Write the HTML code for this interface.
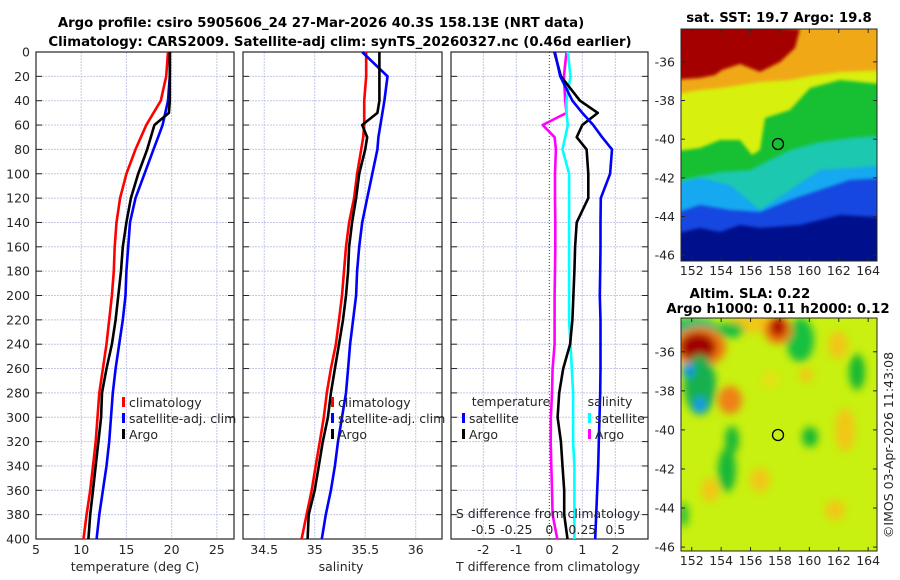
<!DOCTYPE html>
<html><head><meta charset="utf-8">
<style>
html,body{margin:0;padding:0;background:#fff;}
svg{display:block;font-family:"DejaVu Sans","Liberation Sans",sans-serif;}
.tk{font-size:12.5px;fill:#262626;}
.ttl{font-size:13.3px;font-weight:bold;fill:#000;}
</style></head>
<body>
<svg id="fig" width="900" height="580" viewBox="0 0 900 580" xmlns="http://www.w3.org/2000/svg">
<defs>
<filter id="blur" x="-20%" y="-20%" width="140%" height="140%"><feGaussianBlur stdDeviation="4"/></filter>
<filter id="blur2" x="-20%" y="-20%" width="140%" height="140%"><feGaussianBlur stdDeviation="1.5"/></filter>
<clipPath id="cm1"><rect x="681" y="29" width="196" height="232"/></clipPath>
<clipPath id="cm2"><rect x="681" y="318" width="196" height="233"/></clipPath>
</defs>
<text class="ttl" x="321" y="27" text-anchor="middle">Argo profile: csiro 5905606_24 27-Mar-2026 40.3S 158.13E (NRT data)</text>
<text class="ttl" x="340" y="46" text-anchor="middle">Climatology: CARS2009. Satellite-adj clim: synTS_20260327.nc (0.46d earlier)</text>
<g id="plots"></g>

<!-- top map: SST (each polygon = area above its lower boundary) -->
<text class="ttl" x="779" y="22" text-anchor="middle">sat. SST: 19.7 Argo: 19.8</text>
<g clip-path="url(#cm1)">
<rect x="681" y="29" width="196" height="232" fill="#000f8c"/>
<polygon filter="url(#blur2)" fill="#1646e0" points="670,235 700,228 720,232 740,225 760,228 800,225 840,215 890,218 890,20 670,20"/>
<polygon filter="url(#blur2)" fill="#18a8f0" points="670,215 700,205 730,210 760,212 790,200 820,190 850,180 890,178 890,20 670,20"/>
<polygon filter="url(#blur2)" fill="#1cc8b0" points="670,184 700,178 730,185 760,210 790,190 820,170 850,168 890,165 890,20 670,20"/>
<polygon filter="url(#blur2)" fill="#14c030" points="670,182 720,172 750,170 760,165 790,150 820,142 850,138 890,135 890,20 670,20"/>
<polygon filter="url(#blur2)" fill="#d8f010" points="670,152 700,148 720,140 740,140 752,155 760,150 765,118 790,110 810,88 840,80 890,85 890,20 670,20"/>
<polygon filter="url(#blur2)" fill="#f0a814" points="670,95 700,90 720,88 760,82 790,80 810,76 840,72 890,70 890,20 670,20"/>
<polygon filter="url(#blur2)" fill="#a40000" points="670,80 700,78 715,75 722,70 740,64 760,72 780,62 795,48 800,29 670,20"/>
<circle cx="778" cy="144" r="5.5" fill="none" stroke="#000" stroke-width="1.3"/>
</g>
<rect x="681" y="29" width="196" height="232" fill="none" stroke="#262626" stroke-width="1"/>
<g id="map1ticks"></g>

<!-- bottom map: SLA -->
<text class="ttl" x="750" y="298" text-anchor="middle">Altim. SLA: 0.22</text>
<text class="ttl" x="778" y="313" text-anchor="middle">Argo h1000: 0.11 h2000: 0.12</text>
<g clip-path="url(#cm2)">
<rect x="681" y="318" width="196" height="233" fill="#c8f010"/>
<g filter="url(#blur)">
<ellipse cx="752" cy="323" rx="24" ry="10" fill="#f0c818"/>
<ellipse cx="800" cy="340" rx="14" ry="22" fill="#18c040"/>
<ellipse cx="694" cy="328" rx="24" ry="10" fill="#18b878"/>
<ellipse cx="730" cy="330" rx="14" ry="8" fill="#18c040"/>
<ellipse cx="700" cy="347" rx="26" ry="20" fill="#f07810"/>
<ellipse cx="698" cy="347" rx="18" ry="14" fill="#a00000"/>
<ellipse cx="778" cy="330" rx="14" ry="14" fill="#f07810"/>
<ellipse cx="778" cy="327" rx="8" ry="10" fill="#b00000"/>
<ellipse cx="700" cy="385" rx="16" ry="30" fill="#18b050"/>
<ellipse cx="688" cy="370" rx="6" ry="7" fill="#1090f0"/>
<ellipse cx="700" cy="405" rx="6" ry="8" fill="#1898f0"/>
<ellipse cx="730" cy="400" rx="12" ry="14" fill="#f08018"/>
<ellipse cx="732" cy="440" rx="7" ry="14" fill="#18b838"/>
<ellipse cx="727" cy="470" rx="9" ry="22" fill="#18b838"/>
<ellipse cx="810" cy="437" rx="8" ry="10" fill="#18b830"/>
<ellipse cx="857" cy="372" rx="8" ry="18" fill="#18b830"/>
<ellipse cx="684" cy="515" rx="4" ry="12" fill="#18b838"/>
<ellipse cx="760" cy="480" rx="10" ry="12" fill="#f0c818"/>
<ellipse cx="845" cy="430" rx="10" ry="22" fill="#f0c818"/>
<ellipse cx="838" cy="345" rx="10" ry="14" fill="#f0c818"/>
<ellipse cx="710" cy="490" rx="9" ry="12" fill="#f0c818"/>
<ellipse cx="835" cy="510" rx="10" ry="10" fill="#f0c818"/>
<ellipse cx="806" cy="375" rx="7" ry="7" fill="#f0c818"/>
<ellipse cx="770" cy="380" rx="8" ry="8" fill="#e8e018"/>
</g>
<circle cx="778" cy="435" r="5.5" fill="#c8f010" stroke="#000" stroke-width="1.3"/>
</g>
<rect x="681" y="318" width="196" height="233" fill="none" stroke="#262626" stroke-width="1"/>
<g id="map2ticks"></g>
<text class="tk" x="0" y="0" transform="translate(893,445) rotate(-90)" text-anchor="middle">©IMOS 03-Apr-2026 11:43:08</text>
</svg>
<script>
// depth levels (m) for profiles
const depths = [0,20,40,50,60,70,80,100,120,140,160,180,200,220,240,260,280,300,320,340,360,380,400];
// temperature (deg C)
const tempClim = [19.6,19.4,18.8,18.0,17.2,16.6,16.0,15.0,14.3,13.9,13.7,13.6,13.4,13.1,12.8,12.4,12.0,11.8,11.6,11.3,11.0,10.6,10.25];
const tempSat  = [19.8,19.8,19.6,19.3,19.0,18.5,18.0,17.0,16.0,15.4,15.2,15.0,14.9,14.6,14.2,13.8,13.5,13.3,13.1,12.8,12.4,12.0,11.7];
const tempArgo = [19.8,19.8,19.8,19.7,18.1,17.7,17.3,16.3,15.5,15.0,14.6,14.4,14.1,13.8,13.4,12.8,12.3,12.2,11.9,11.6,11.3,11.0,10.8];
// salinity
const salClim = [35.51,35.51,35.49,35.49,35.49,35.48,35.46,35.42,35.39,35.34,35.31,35.29,35.27,35.24,35.21,35.16,35.12,35.09,35.05,35.01,34.97,34.92,34.87];
const salSat  = [35.47,35.72,35.69,35.67,35.65,35.63,35.62,35.57,35.52,35.47,35.44,35.42,35.41,35.38,35.35,35.33,35.31,35.27,35.23,35.20,35.16,35.11,35.07];
const salArgo = [35.64,35.64,35.64,35.62,35.47,35.52,35.50,35.44,35.41,35.37,35.34,35.33,35.31,35.28,35.24,35.20,35.16,35.13,35.08,35.04,35.00,34.94,34.93];
// differences from climatology (T in deg C, S in psu)
const dTSat  = [0.17,0.33,0.70,1.0,1.33,1.6,1.9,1.84,1.56,1.55,1.55,1.54,1.53,1.55,1.55,1.55,1.54,1.52,1.50,1.48,1.45,1.42,1.39];
const dTArgo = [0.15,0.35,0.93,1.47,1.00,0.83,1.13,1.18,1.18,0.83,0.78,0.76,0.73,0.70,0.63,0.42,0.30,0.25,0.35,0.40,0.45,0.45,0.55];
const dSSat  = [0.14,0.16,0.13,0.13,0.14,0.12,0.10,0.15,0.15,0.15,0.15,0.15,0.15,0.15,0.16,0.17,0.18,0.18,0.18,0.19,0.19,0.19,0.19];
const dSArgo = [0.13,0.11,0.12,0.13,-0.05,0.04,0.05,0.043,0.043,0.045,0.045,0.043,0.04,0.04,0.04,0.025,0.02,0.012,0.01,0.015,0.02,0.025,0.06];
// tick labels
const depthTicks = [0,20,40,60,80,100,120,140,160,180,200,220,240,260,280,300,320,340,360,380,400];
const tempTicks = [5,10,15,20,25];
const salTicks = [34.5,35,35.5,36];
const dTTicks = [-2,-1,0,1,2];
const dSTicks = [-0.5,-0.25,0,0.25,0.5];
const lonTicks = [152,154,156,158,160,162,164];
const latTicks = [-36,-38,-40,-42,-44,-46];

const NS="http://www.w3.org/2000/svg";
const root=document.getElementById('plots');
function mk(tag,attrs,parent){const e=document.createElementNS(NS,tag);for(const k in attrs)e.setAttribute(k,attrs[k]);(parent||root).appendChild(e);return e;}
const Y0=52,Y1=539;
const yD=d=>Y0+(d/400)*(Y1-Y0);

const panels=[
 {x0:36,x1:234,min:5,max:26.9,name:'temperature-panel'},
 {x0:243,x1:442,min:34.29,max:36.26,name:'salinity-panel'},
 {x0:451,x1:648,min:-2.98,max:2.99,name:'difference-panel'}
];
panels.forEach(p=>{p.sx=v=>p.x0+(v-p.min)/(p.max-p.min)*(p.x1-p.x0);});

function gridAndFrame(p,xt,idx){
  const g=mk('g',{});
  
  
  depthTicks.forEach(d=>{
    const y=yD(d);
    const l=mk('line',{x1:p.x0,x2:p.x1,y1:y,y2:y,stroke:'#c4c8e4','stroke-width':1,'stroke-dasharray':'2,1'},g);
    
    
    mk('line',{x1:p.x0,x2:p.x0+6,y1:y,y2:y,stroke:'#262626'},g);
    mk('line',{x1:p.x1-6,x2:p.x1,y1:y,y2:y,stroke:'#262626'},g);
    if(idx===0){
      const t=mk('text',{x:30,y:y+4.5,'text-anchor':'end',class:'tk'},g);
      t.textContent=d;
      
      
    }
  });
  xt.forEach(v=>{
    const x=p.sx(v);
    if(idx===2&&v===0){
      mk('line',{x1:x,x2:x,y1:Y0,y2:Y1,stroke:'#3a4a1a','stroke-width':1,'stroke-dasharray':'1,2'},g);
    } else {
      const l=mk('line',{x1:x,x2:x,y1:Y0,y2:Y1,stroke:'#c4c8e4','stroke-width':1,'stroke-dasharray':'2,1'},g);
      
      
    }
    const t=mk('text',{x:x,y:554,'text-anchor':'middle',class:'tk'},g);
    t.textContent=v;
    
    
  });
  mk('rect',{x:p.x0,y:Y0,width:p.x1-p.x0,height:Y1-Y0,fill:'none',stroke:'#262626','stroke-width':1.2},g);
  return g;
}
function line(p,vals,color,name,conv){
  const pts=vals.map((v,i)=>p.sx(conv?conv(v):v).toFixed(1)+','+yD(depths[i]).toFixed(1)).join(' ');
  const e=mk('polyline',{points:pts,fill:'none',stroke:color,'stroke-width':2.6,'stroke-linejoin':'round'});
  
  
}
function legendEntry(x,y,color,label,name){
  const g=mk('g',{});
  
  
  mk('rect',{x:x,y:y-10,width:3,height:10,fill:color},g);
  const t=mk('text',{x:x+7,y:y,class:'tk'},g);
  t.textContent=label;
}
function axisLabel(x,y,txt,name){
  const t=mk('text',{x:x,y:y,'text-anchor':'middle',class:'tk'});
  t.textContent=txt;
  
  
}

// temperature panel
const P0=panels[0];
gridAndFrame(P0,tempTicks,0);
line(P0,tempClim,'#ff0000','temp-climatology-line');
line(P0,tempSat,'#0000ff','temp-satellite-line');
line(P0,tempArgo,'#000000','temp-argo-line');
legendEntry(122,407,'#ff0000','climatology','legend-climatology');
legendEntry(122,423,'#0000ff','satellite-adj. clim','legend-satellite-adj');
legendEntry(122,439,'#000000','Argo','legend-argo');
axisLabel(135,571,'temperature (deg C)','x-axis-title-temperature');

// salinity panel
const P1=panels[1];
gridAndFrame(P1,salTicks,1);
line(P1,salClim,'#ff0000','sal-climatology-line');
line(P1,salSat,'#0000ff','sal-satellite-line');
line(P1,salArgo,'#000000','sal-argo-line');
legendEntry(331,407,'#ff0000','climatology','legend-climatology-sal');
legendEntry(331,423,'#0000ff','satellite-adj. clim','legend-satellite-adj-sal');
legendEntry(331,439,'#000000','Argo','legend-argo-sal');
axisLabel(341,571,'salinity','x-axis-title-salinity');

// difference panel
const P2=panels[2];
gridAndFrame(P2,dTTicks,2);
const s2t=v=>v*4;
line(P2,dSArgo,'#ff00ff','sal-diff-argo-line',s2t);
line(P2,dSSat,'#00ffff','sal-diff-satellite-line',s2t);
line(P2,dTArgo,'#000000','temp-diff-argo-line');
line(P2,dTSat,'#0000ff','temp-diff-satellite-line');
axisLabel(511,406,'temperature','legend-title-temperature');
legendEntry(462,423,'#0000ff','satellite','legend-temp-satellite');
legendEntry(462,439,'#000000','Argo','legend-temp-argo');
axisLabel(610,406,'salinity','legend-title-salinity');
legendEntry(588,423,'#00ffff','satellite','legend-sal-satellite');
legendEntry(588,439,'#ff00ff','Argo','legend-sal-argo');
axisLabel(548,518,'S difference from climatology','s-axis-title');
dSTicks.forEach(v=>{
  const t=mk('text',{x:P2.sx(v*4),y:534,'text-anchor':'middle',class:'tk'});
  t.textContent=v;
  
  
});
axisLabel(548,571,'T difference from climatology','t-axis-title');

// map ticks
function mapTicks(gid,top,bot,latTop,latBot){
  const g=document.getElementById(gid);
  const sx=lon=>680.7+(lon-151.25)/(164.6-151.25)*196.3;
  const sy=lat=>top+(latTop-lat)/(latTop-latBot)*(bot-top);
  lonTicks.forEach(v=>{
    const x=sx(v);
    mk('line',{x1:x,x2:x,y1:bot,y2:bot-4,stroke:'#262626'},g);
    mk('line',{x1:x,x2:x,y1:top,y2:top+4,stroke:'#262626'},g);
    const t=mk('text',{x:x,y:bot+14,'text-anchor':'middle',class:'tk'},g);
    t.textContent=v;
    
    
  });
  latTicks.forEach(v=>{
    const y=sy(v);
    mk('line',{x1:681,x2:685,y1:y,y2:y,stroke:'#262626'},g);
    mk('line',{x1:873,x2:877,y1:y,y2:y,stroke:'#262626'},g);
    const t=mk('text',{x:675,y:y+4.5,'text-anchor':'end',class:'tk'},g);
    t.textContent=v;
    
    
  });
}
mapTicks('map1ticks',29,261,-34.3,-46.3);
mapTicks('map2ticks',318,551,-34.27,-46.2);
</script>
</body></html>
